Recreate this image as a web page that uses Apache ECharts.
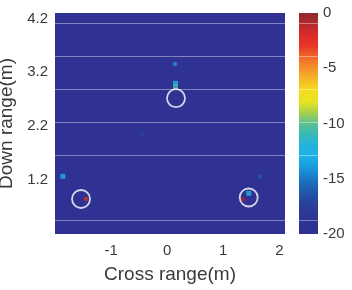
<!DOCTYPE html>
<html>
<head>
<meta charset="utf-8">
<script src="https://cdn.jsdelivr.net/npm/echarts@6/dist/echarts.min.js"></script>
<style>html,body{margin:0;padding:0;background:#fff}#c{width:352px;height:290px}</style>
</head>
<body>
<div id="c"></div>
<script>
// ---- data ----
const xTicks = [-1, 0, 1, 2];
const yTicks = [1.2, 2.2, 3.2, 4.2];
const cbTicks = [0, -5, -10, -15, -20];
// hot spots: [cross range, down range, level dB]
const spotsSquare = [
  [0.148, 2.995, -12.0],
  [0.148, 2.935, -10.8],
  [-1.86, 1.27, -12.6],
  [1.455, 0.955, -11.6]
];
const spotsDot = [
  [0.139, 3.354, -14.2],
  [-1.45, 0.85, -1.9],
  [1.35, 0.845, -0.7],
  [1.66, 1.26, -16.2],
  [-0.44, 2.07, -17.2]
];
// target circles: [cross range, down range]
const targets = [
  [0.157, 2.72],
  [-1.536, 0.849],
  [1.453, 0.877]
];
// faint horizontal lines in the image (plot units / colorbar units)
const plotLinesY = [4.114, 3.493, 2.881, 2.268, 1.656, 0.46];
const cbLinesV = [-0.905, -3.94, -6.92, -9.91, -12.9, -18.73];
// colormap from -20 (first) to 0 (last)
const jetColors = ['#2e3192','#2e3292','#2c3996','#27469e','#1f5cae','#1a78c4','#1a98dc','#1cb0e8','#22b4dc','#38b8b8','#5ec090','#a8d04a','#e8e41e','#f2dc1e','#f5b828','#f4902a','#ef6a2a','#e8362a','#dc2b2a','#b52a2c','#8e2a2e'];

const font = "'Liberation Sans', Arial, sans-serif";
const txt = '#3a3a3a';
const lineStyle = {color: 'rgba(255,255,255,0.4)', width: 1, type: 'solid'};

const chart = echarts.init(document.getElementById('c'), null, {renderer: 'canvas'});
const gradStops = jetColors.slice().reverse().map((c, i) => ({offset: i / (jetColors.length - 1), color: c}));

chart.setOption({
  animation: false,
  textStyle: {fontFamily: font},
  grid: [
    {left: 55, top: 13, width: 230, height: 221, show: true, backgroundColor: '#2f3293', borderWidth: 0,
     containLabel: false, outerBoundsMode: 'none'},
    {left: 299, top: 13, width: 19, height: 221, show: false, containLabel: false, outerBoundsMode: 'none'}
  ],
  xAxis: [
    {gridIndex: 0, type: 'value', min: -2, max: 2.1,
     axisLine: {show: false}, axisTick: {show: false}, splitLine: {show: false},
     axisLabel: {customValues: xTicks, color: txt, fontSize: 15, margin: 9, fontFamily: font},
     name: 'Cross range(m)', nameLocation: 'middle', nameGap: 31,
     nameTextStyle: {color: txt, fontSize: 19, fontFamily: font}},
    {gridIndex: 1, type: 'category', data: ['c'], show: false}
  ],
  yAxis: [
    {gridIndex: 0, type: 'value', min: 0.2, max: 4.3,
     axisLine: {show: false}, axisTick: {show: false}, splitLine: {show: false},
     axisLabel: {customValues: yTicks, color: txt, fontSize: 15, margin: 7, fontFamily: font,
                 formatter: v => v.toFixed(1)},
     name: 'Down range(m)', nameLocation: 'middle', nameGap: 33,
     nameTextStyle: {color: txt, fontSize: 19, fontFamily: font}},
    {gridIndex: 1, type: 'value', min: -20, max: 0, position: 'right',
     axisLine: {show: false}, axisTick: {show: false}, splitLine: {show: false},
     axisLabel: {customValues: cbTicks, color: txt, fontSize: 15, margin: 5, fontFamily: font}}
  ],
  visualMap: {
    show: false, type: 'continuous', min: -20, max: 0, dimension: 2, seriesIndex: [0, 1],
    inRange: {color: jetColors}
  },
  series: [
    {type: 'scatter', xAxisIndex: 0, yAxisIndex: 0, symbol: 'rect', symbolSize: 5,
     data: spotsSquare, silent: true},
    {type: 'scatter', xAxisIndex: 0, yAxisIndex: 0, symbol: 'circle', symbolSize: 4.5,
     data: spotsDot, silent: true},
    {type: 'scatter', xAxisIndex: 0, yAxisIndex: 0, symbol: 'circle', symbolSize: 18,
     itemStyle: {color: 'rgba(0,0,0,0)', borderColor: '#ffffff', borderWidth: 1.8},
     data: targets, silent: true, z: 5,
     markLine: {silent: true, symbol: 'none', label: {show: false}, lineStyle: lineStyle,
                emphasis: {disabled: true}, data: plotLinesY.map(v => ({yAxis: v}))}},
    {type: 'bar', xAxisIndex: 1, yAxisIndex: 1, data: [-20], barWidth: '100%', silent: true,
     itemStyle: {color: new echarts.graphic.LinearGradient(0, 0, 0, 1, gradStops)},
     markLine: {silent: true, symbol: 'none', label: {show: false}, lineStyle: lineStyle,
                emphasis: {disabled: true}, data: cbLinesV.map(v => ({yAxis: v}))}}
  ]
});
</script>
</body>
</html>
